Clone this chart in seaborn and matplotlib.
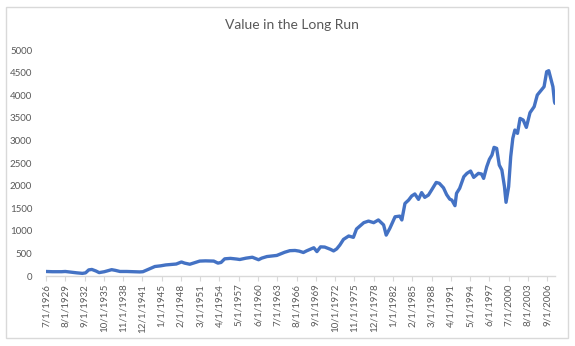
import matplotlib
matplotlib.use("Agg")
import matplotlib.pyplot as plt
import seaborn as sns
import pandas as pd
from matplotlib.patches import Rectangle

# ---- data ----
dates = [
    "7/1926", "7/1927", "1/1929", "8/1929", "7/1930", "6/1931", "5/1932", "11/1932",
    "5/1933", "11/1933", "7/1934", "1/1935", "11/1935", "7/1936", "1/1937", "8/1937",
    "5/1938", "6/1939", "7/1940", "7/1941", "1/1942", "8/1942", "6/1943", "12/1943",
    "11/1944", "9/1945", "8/1946", "5/1947", "3/1948", "9/1948", "7/1949", "2/1950",
    "2/1951", "1/1952", "5/1953", "1/1954", "7/1954", "2/1955", "1/1956", "1/1957",
    "7/1957", "7/1958", "7/1959", "7/1960", "1/1961", "11/1961", "7/1962", "6/1963",
    "9/1964", "7/1965", "5/1966", "1/1967", "9/1967", "3/1968", "5/1969", "11/1969",
    "6/1970", "2/1971", "1/1972", "7/1972", "1/1973", "7/1973", "2/1974", "12/1974",
    "9/1975", "3/1976", "5/1977", "2/1978", "12/1978", "9/1979", "7/1980", "12/1980",
    "7/1981", "5/1982", "2/1983", "6/1983", "12/1983", "7/1984", "1/1985", "7/1985",
    "2/1986", "8/1986", "2/1987", "9/1987", "3/1988", "12/1988", "6/1989", "2/1990",
    "8/1990", "2/1991", "6/1991", "12/1991", "3/1992", "9/1992", "5/1993", "11/1993",
    "6/1994", "12/1994", "9/1995", "3/1996", "7/1996", "1/1997", "6/1997", "11/1997",
    "3/1998", "8/1998", "1/1999", "6/1999", "11/1999", "2/2000", "7/2000", "11/2000",
    "3/2001", "7/2001", "12/2001", "5/2002", "11/2002", "5/2003", "12/2003", "8/2004",
    "2/2005", "11/2005", "3/2006", "8/2006", "12/2006", "3/2007", "8/2007", "11/2007",
    "12/2007",
]
values = [
    100, 95, 95, 100, 85, 70, 58, 70,
    135, 145, 110, 75, 95, 120, 140, 125,
    100, 100, 95, 90, 95, 130, 180, 210,
    225, 245, 255, 265, 310, 285, 260, 285,
    330, 335, 330, 285, 300, 380, 390, 375,
    365, 395, 415, 360, 395, 430, 440, 455,
    525, 560, 565, 550, 520, 555, 625, 540,
    645, 640, 590, 555, 600, 685, 810, 885,
    855, 1040, 1180, 1215, 1180, 1240, 1130, 905,
    1055, 1310, 1325, 1240, 1605, 1680, 1770, 1815,
    1695, 1845, 1740, 1790, 1900, 2070, 2050, 1950,
    1800, 1700, 1680, 1556, 1829, 1940, 2197, 2271,
    2322, 2182, 2271, 2256, 2160, 2418, 2580, 2677,
    2846, 2824, 2455, 2345, 1976, 1630, 1976, 2640,
    3045, 3230, 3156, 3487, 3450, 3288, 3613, 3746,
    4004, 4129, 4188, 4520, 4542, 4410, 4188, 3857,
    3820,
]
tick_labels = [
    "7/1/1926", "8/1/1929", "9/1/1932", "10/1/1935", "11/1/1938", "12/1/1941",
    "1/1/1945", "2/1/1948", "3/1/1951", "4/1/1954", "5/1/1957", "6/1/1960",
    "7/1/1963", "8/1/1966", "9/1/1969", "10/1/1972", "11/1/1975", "12/1/1978",
    "1/1/1982", "2/1/1985", "3/1/1988", "4/1/1991", "5/1/1994", "6/1/1997",
    "7/1/2000", "8/1/2003", "9/1/2006",
]
y_ticks = [0, 500, 1000, 1500, 2000, 2500, 3000, 3500, 4000, 4500, 5000]


def month_index(s):
    parts = [int(p) for p in s.split("/")]
    m, y = parts[0], parts[-1]
    return (y - 1926) * 12 + (m - 7)


df = pd.DataFrame({"idx": [month_index(d) for d in dates], "value": values})
tick_pos = [month_index(t) for t in tick_labels]

# ---- style ----
sns.set_theme(style="white")
plt.rcParams["font.family"] = ["Lato", "DejaVu Sans"]
grey = "#595959"
light = "#d9d9d9"

fig = plt.figure(figsize=(5.75, 3.46), dpi=100)
ax = fig.add_axes([46 / 575, 1 - 276 / 346, (555 - 46) / 575, (276 - 50) / 346])

sns.lineplot(data=df, x="idx", y="value", ax=ax, color="#4472C4", linewidth=2.4)

ax.set_xlim(0, 977)
ax.set_ylim(0, 5000)
ax.set_yticks(y_ticks)
ax.set_yticklabels([str(v) for v in y_ticks])
ax.set_xticks(tick_pos)
ax.set_xticklabels(tick_labels, rotation=90)
ax.set_xlabel("")
ax.set_ylabel("")
ax.grid(False)

for side in ["left", "right", "top"]:
    ax.spines[side].set_visible(False)
ax.spines["bottom"].set_color(light)
ax.spines["bottom"].set_linewidth(1.0)

ax.tick_params(axis="x", length=3.5, width=0.8, color=light, labelsize=7,
               labelcolor=grey, pad=2, bottom=True)
ax.tick_params(axis="y", length=0, labelsize=7, labelcolor=grey, pad=10, left=False)

fig.text(0.508, 1 - 25 / 346, "Value in the Long Run", ha="center", va="center",
         fontsize=10, color=grey)

fig.patches.append(Rectangle((6 / 575, 1 - 338 / 346), 562 / 575, 331 / 346,
                             transform=fig.transFigure, fill=False,
                             edgecolor=light, linewidth=1.0))

fig.savefig("out.png", dpi=100)
